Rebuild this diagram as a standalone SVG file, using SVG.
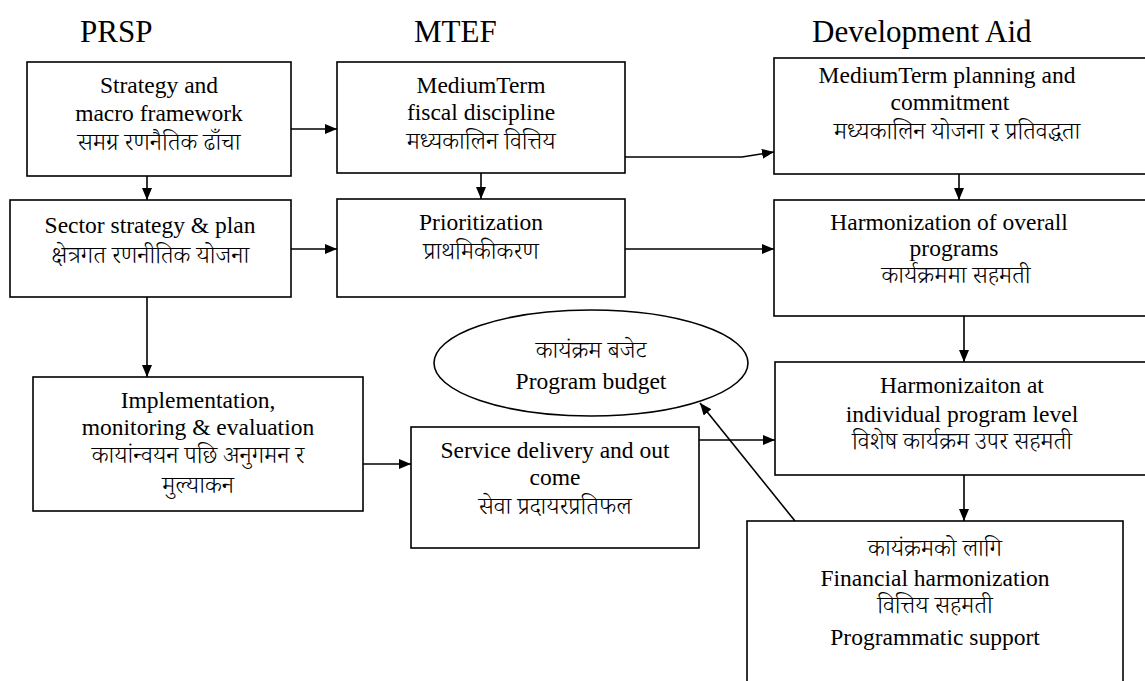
<svg xmlns="http://www.w3.org/2000/svg" width="1145" height="681" viewBox="0 0 1145 681">
<style>
.box{fill:#fff;stroke:#000;stroke-width:1.6}
.t{font-family:"Liberation Serif","Noto Serif Devanagari","Noto Sans Devanagari","Lohit Devanagari",serif;font-size:23.5px;fill:#000;text-anchor:middle}
.d{font-family:"Noto Serif Devanagari","Noto Sans Devanagari","Lohit Devanagari","Liberation Serif",serif;font-size:24px;font-weight:300;fill:#000;text-anchor:middle}
.h{font-family:"Liberation Serif",serif;font-size:31px;fill:#000}
.c{fill:none;stroke:#000;stroke-width:1.6}
</style>
<defs>
<marker id="ah" markerWidth="12" markerHeight="10" refX="12" refY="5" orient="auto" markerUnits="userSpaceOnUse">
<path d="M0,0 L12,5 L0,10 Z" fill="#000"/>
</marker>
</defs>
<rect width="1145" height="681" fill="#fff"/>
<g id="headers">
<text class="h" x="80" y="42">PRSP</text>
<text class="h" x="414" y="42">MTEF</text>
<text class="h" x="812" y="42">Development Aid</text>
</g>
<g id="connectors">
<line class="c" x1="291" y1="129" x2="337" y2="129" marker-end="url(#ah)"/>
<line class="c" x1="147" y1="176" x2="147" y2="200" marker-end="url(#ah)"/>
<line class="c" x1="481" y1="173" x2="481" y2="199" marker-end="url(#ah)"/>
<line class="c" x1="291" y1="249" x2="337" y2="249" marker-end="url(#ah)"/>
<polyline class="c" points="625,157 742,157 774,152" marker-end="url(#ah)"/>
<line class="c" x1="625" y1="249" x2="774" y2="249" marker-end="url(#ah)"/>
<line class="c" x1="959" y1="174" x2="959" y2="200" marker-end="url(#ah)"/>
<line class="c" x1="964" y1="316" x2="964" y2="362" marker-end="url(#ah)"/>
<line class="c" x1="964" y1="475" x2="964" y2="521" marker-end="url(#ah)"/>
<line class="c" x1="147" y1="297" x2="147" y2="377" marker-end="url(#ah)"/>
<line class="c" x1="363" y1="464" x2="411" y2="464" marker-end="url(#ah)"/>
<line class="c" x1="699" y1="440" x2="775" y2="440" marker-end="url(#ah)"/>
<line class="c" x1="795" y1="521" x2="700" y2="403" marker-end="url(#ah)"/>
</g>
<g id="strategy">
<rect class="box" x="27" y="62" width="264" height="114"/>
<text class="t" x="159" y="93">Strategy and</text>
<text class="t" x="159" y="121">macro framework</text>
<text class="d" x="159" y="150">समग्र रणनैतिक ढाँचा</text>
</g>
<g id="sector">
<rect class="box" x="10" y="200" width="281" height="97"/>
<text class="t" x="150" y="233">Sector strategy &amp; plan</text>
<text class="d" x="150" y="263">क्षेत्रगत रणनीतिक योजना</text>
</g>
<g id="fiscal">
<rect class="box" x="337" y="62" width="288" height="111"/>
<text class="t" x="481" y="93">MediumTerm</text>
<text class="t" x="481" y="120">fiscal discipline</text>
<text class="d" x="481" y="149">मध्यकालिन वित्तिय</text>
</g>
<g id="prioritization">
<rect class="box" x="337" y="199" width="288" height="98"/>
<text class="t" x="481" y="230">Prioritization</text>
<text class="d" x="481" y="259">प्राथमिकीकरण</text>
</g>
<g id="planning">
<rect class="box" x="774" y="58" width="380" height="116"/>
<text class="t" x="947" y="83">MediumTerm planning and</text>
<text class="t" x="950" y="110">commitment</text>
<text class="d" x="957" y="139">मध्यकालिन योजना र प्रतिवद्धता</text>
</g>
<g id="overall">
<rect class="box" x="774" y="200" width="380" height="116"/>
<text class="t" x="949" y="230">Harmonization of overall</text>
<text class="t" x="954" y="256">programs</text>
<text class="d" x="956" y="283">कार्यक्रममा सहमती</text>
</g>
<g id="individual">
<rect class="box" x="775" y="362" width="380" height="113"/>
<text class="t" x="962" y="393">Harmonizaiton at</text>
<text class="t" x="962" y="422">individual program level</text>
<text class="d" x="962" y="449">विशेष कार्यक्रम उपर सहमती</text>
</g>
<g id="financial">
<rect class="box" x="747" y="521" width="376" height="170"/>
<text class="d" x="935" y="556">कायंक्रमको लागि</text>
<text class="t" x="935" y="586">Financial harmonization</text>
<text class="d" x="935" y="613">वित्तिय सहमती</text>
<text class="t" x="935" y="645">Programmatic support</text>
</g>
<g id="implementation">
<rect class="box" x="33" y="377" width="330" height="134"/>
<text class="t" x="198" y="408">Implementation,</text>
<text class="t" x="198" y="435">monitoring &amp; evaluation</text>
<text class="d" x="198" y="463">कायांन्वयन पछि अनुगमन र</text>
<text class="d" x="198" y="493">मुल्याकन</text>
</g>
<g id="service">
<rect class="box" x="411" y="427" width="288" height="121"/>
<text class="t" x="555" y="458">Service delivery and out</text>
<text class="t" x="555" y="485">come</text>
<text class="d" x="555" y="514">सेवा प्रदायरप्रतिफल</text>
</g>
<g id="budget">
<ellipse class="box" cx="591" cy="363" rx="157" ry="53"/>
<text class="d" x="591" y="358">कायंक्रम बजेट</text>
<text class="t" x="591" y="389">Program budget</text>
</g>
</svg>
